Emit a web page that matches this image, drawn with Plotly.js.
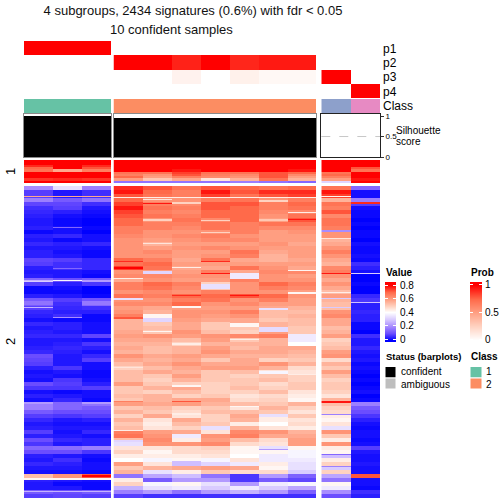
<!DOCTYPE html>
<html><head><meta charset="utf-8">
<script src="https://cdn.plot.ly/plotly-3.0.1.min.js"></script>
<style>html,body{margin:0;padding:0;background:#fff}</style>
</head><body><div id="chart" style="width:504px;height:504px"></div>
<script>
// ---------- data ----------
const titleMain = "4 subgroups, 2434 signatures (0.6%) with fdr < 0.05";
const titleSub = "10 confident samples";
const probNames = ["p1","p2","p3","p4"];
const probP1 = [1,1,1, 0,0,0,0,0,0,0, 0,0];
const probP2 = [0,0,0, 1,1,.92,1,.91,.94,.94, 0,0];
const probP3 = [0,0,0, 0,0,.07,0,.08,.04,.04, 1,0];
const probP4 = [0,0,0, 0,0,0,0,0,0,0, 0,1];
const classIds = [1,1,1, 2,2,2,2,2,2,2, 3,4];
const silhouette = [1,1,1, .96,.96,.96,.96,.96,.96,.96, 0,0];
const groups = [[0,1,2],[3,4,5,6,7,8,9],[10,11]];

// heatmap values x100, one line per row band, columns left to right
const slice1Percent = [
[80,80,80, 80,80,80,80,80,80,80, 80,80],
[80,80,80, 80,80,80,80,80,80,80, 80,80],
[76,80,76, 80,80,80,80,80,80,80, 80,80],
[70,80,72, 80,80,80,80,80,80,80, 80,72],
[68,58,66, 80,80,78,80,80,80,78, 80,68],
[80,80,80, 68,68,74,68,68,72,70, 68,80],
[80,80,80, 66,62,72,66,64,72,64, 70,80],
[80,80,80, 70,60,66,64,62,72,60, 66,80],
[75,76,75, 60,52,58,46,56,68,56, 60,78],
[80,80,80, 16,16,16,16,18,16,14, 32,80]
];
const slice2Percent = [
[20,34,18, 76,72,68,72,70,68,70, 68,14],
[8,3,6, 78,70,66,78,72,76,76, 78,2],
[8,3,6, 72,68,66,74,68,72,74, 74,2],
[18,12,16, 70,62,62,66,68,62,66, 56,18],
[9,9,6, 74,66,64,72,72,66,70, 68,8],
[6,8,3, 78,68,66,72,70,66,68, 66,2],
[5,4,2, 74,66,64,70,70,64,64, 72,1],
[4,2,1, 72,68,66,70,70,62,68, 64,1],
[3,1,0, 70,62,68,64,70,60,72, 68,0],
[3,1,0, 70,66,66,68,66,68,68, 68,1],
[4,2,1, 66,66,64,68,66,64,64, 66,0],
[1,2,0, 66,62,62,62,66,60,62, 62,1],
[4,5,2, 64,62,64,66,62,60,60, 62,1],
[3,1,2, 62,60,62,64,64,60,60, 56,0],
[5,4,5, 62,56,60,60,60,62,58, 58,2],
[3,3,2, 62,60,62,64,62,60,60, 62,1],
[4,2,1, 62,64,60,60,68,58,60, 66,1],
[4,3,1, 62,62,60,62,66,56,60, 62,2],
[9,8,5, 70,66,58,68,58,56,58, 58,1],
[8,6,5, 68,70,60,60,60,60,60, 56,6],
[4,6,5, 74,68,58,58,68,62,58, 64,4],
[3,3,2, 62,60,60,66,58,64,64, 66,2],
[4,3,1, 64,64,62,62,56,62,60, 62,0],
[14,10,12, 58,62,60,60,66,62,62, 58,0],
[8,4,7, 66,70,66,50,62,70,66, 62,1],
[1,2,0, 66,68,64,52,62,66,64, 58,0],
[1,1,0, 62,64,62,66,62,62,60, 54,0],
[4,3,1, 68,66,70,70,72,70,62, 60,5],
[12,8,11, 62,62,66,68,62,66,60, 56,7],
[12,6,14, 64,64,70,62,64,60,60, 54,4],
[8,5,6, 60,58,60,60,60,58,56, 54,4],
[5,4,4, 62,56,62,62,66,54,54, 62,5],
[4,6,1, 66,48,62,60,62,54,56, 64,4],
[2,1,1, 56,46,60,58,58,52,54, 58,4],
[5,4,2, 56,52,58,52,58,56,54, 58,1],
[3,4,2, 56,54,58,52,52,56,52, 54,1],
[4,3,2, 58,52,62,54,50,60,52, 56,0],
[5,5,9, 60,62,60,62,64,66,36, 60,6],
[3,3,2, 58,58,54,60,52,56,36, 50,3],
[3,4,7, 56,56,50,56,56,56,40, 52,3],
[4,5,4, 58,54,56,60,54,58,58, 54,5],
[5,4,2, 56,54,56,62,58,58,56, 60,3],
[10,3,5, 62,58,60,58,56,56,54, 62,2],
[9,3,8, 58,56,58,52,58,50,52, 48,3],
[8,3,2, 54,58,62,58,58,62,56, 56,1],
[4,7,2, 50,54,58,60,60,56,48, 52,2],
[2,3,1, 54,58,56,52,54,46,46, 60,1],
[3,2,1, 54,52,60,52,50,52,50, 54,0],
[2,7,2, 54,50,56,52,52,54,50, 50,1],
[10,8,4, 60,52,50,50,52,48,52, 52,0],
[7,7,8, 52,56,58,50,54,50,52, 52,1],
[2,1,2, 52,50,54,50,50,54,46, 50,2],
[4,3,2, 54,56,50,52,46,48,44, 46,0],
[2,5,1, 52,56,58,58,48,50,42, 56,1],
[18,14,16, 60,58,60,56,54,52,56, 54,18],
[18,14,12, 52,54,50,52,46,56,50, 50,12],
[12,10,10, 56,52,48,54,54,52,46, 48,10],
[8,7,8, 50,58,46,50,58,44,52, 44,7],
[5,3,4, 56,46,58,50,56,44,46, 42,4],
[3,2,2, 52,44,54,52,44,40,48, 46,2],
[4,3,3, 54,46,50,34,56,46,44, 34,1],
[8,2,5, 66,60,58,46,64,62,56, 62,2],
[4,3,2, 68,62,36,62,66,58,58, 52,2],
[10,5,4, 54,64,44,60,54,48,60, 44,1],
[7,3,4, 34,62,62,64,48,46,60, 62,2],
[14,15,18, 46,46,48,50,42,34,42, 44,8],
[10,10,7, 50,42,48,48,42,42,38, 42,3],
[4,3,2, 44,44,44,46,40,36,38, 28,2],
[3,6,1, 40,38,42,38,46,36,36, 44,2],
[5,4,2, 60,46,28,32,36,44,34, 50,3],
[3,3,2, 52,56,58,60,58,42,34, 30,2],
[2,2,1, 56,34,44,52,48,48,30, 50,2],
[54,62,72, 16,24,28,16,7,22,13, 24,72],
[4,3,2, 44,12,22,22,7,12,9, 16,2],
[3,1,1, 50,38,42,34,22,36,38, 42,2],
[3,3,1, 26,34,36,30,36,30,24, 36,1],
[12,10,12, 18,22,16,22,26,22,13, 20,6],
[8,9,8, 8,6,6,6,6,6,6, 10,4]
];
const bandsPerRow = 4;
// narrow rows standing out from their band: firstRow, lastRow, firstColumn, lastColumn, value x100
const narrowRows = [
[10,10,0,2,58],[10,10,10,10,42],[11,11,3,9,44],[13,13,4,4,46],[14,15,8,8,50],[16,17,5,5,50],
[16,17,11,11,76],[17,17,4,4,78],[26,26,9,9,44],[33,34,8,8,52],[33,33,9,9,78],[33,34,4,4,50],
[34,34,6,6,50],[41,41,1,1,14],[44,45,10,10,20],[46,46,6,6,50],[52,52,10,10,46],[57,57,4,4,46],
[75,75,3,3,76],[75,75,6,6,76],[81,82,3,3,80],[81,81,5,5,44],[82,82,1,1,14],[84,84,9,9,42],
[85,87,4,4,32],[87,87,6,6,78],[87,87,10,10,78],[87,87,11,11,30],[87,92,7,7,36],[92,92,3,3,44],
[94,94,0,0,26],[94,94,1,1,38],[94,95,2,2,22],[95,95,0,0,30],[98,102,6,6,34],[106,107,9,9,42],
[106,106,10,10,44],[109,109,7,7,78],[109,109,5,5,76],[112,113,3,3,34],[112,112,10,10,30],
[115,118,0,0,16],[115,118,2,2,17],[116,116,11,11,28],[120,121,5,5,42],[121,121,0,0,26],
[121,121,10,10,30],[122,123,8,8,34],[128,131,4,4,42],[132,135,4,4,32],[131,131,1,1,20],
[131,132,3,3,72],[137,140,7,7,42],[141,145,8,8,33],[145,145,4,4,42],[153,153,7,7,44],
[157,158,5,5,44],[181,181,3,3,46],[185,187,8,8,38],[188,188,9,9,44],[199,200,5,5,42],
[215,215,5,5,72],[215,216,10,10,78],[215,215,3,3,66],[216,217,0,0,22],[216,217,2,2,22],
[220,220,7,7,42],[227,228,5,5,44],[228,230,8,8,34],[228,228,10,10,18],[244,244,3,3,44],
[254,255,3,3,32],[263,263,8,8,22],[268,268,10,10,14],[275,278,5,5,28],[280,280,10,10,18],
[289,290,2,2,80],[292,293,0,2,42],[305,305,0,2,26]
];
const valueLegendSteps = [0,.1,.2,.3,.4,.5,.6,.7,.8];
const probLegendSteps = [0,.25,.5,.75,1];
const valueTicks = [0,.2,.4,.6,.8];
const valueTickText = ["0","0.2","0.4","0.6","0.8"];
const probTicks = [0,.5,1];
const probTickText = ["0","0.5","1"];
const silTicks = [0,.5,1];
const silTickText = ["0","0.5","1"];
const statusItems = ["confident","ambiguous"];
const classItems = ["1","2"];

// ---------- styles ----------
const FONT = "Liberation Sans, Arial, sans-serif";
const valueScale = [[0,"#0000ff"],[.125,"#6b4dff"],[.25,"#a88cff"],[.375,"#d9cbff"],[.5,"#ffffff"],
                    [.625,"#ffd2c1"],[.75,"#ff9e81"],[.875,"#ff6a4a"],[1,"#ff0000"]];
const probScale = [[0,"#ffffff"],[.25,"#ffd2c1"],[.5,"#ff9e81"],[.75,"#ff6a4a"],[1,"#ff0000"]];
const classScale = [[0,"#66c2a5"],[1/3,"#fc8d62"],[2/3,"#8da0cb"],[1,"#e78ac3"]];

const W = 504;
const dx = (a,b)=>[a/W,b/W];
const dy = (t,b)=>[1-b/W,1-t/W];
const groupDom = [dx(24,111),dx(113.5,316),dx(321.3,380)];
const hidden = {showgrid:false,zeroline:false,showticklabels:false,ticks:"",showline:false};

// expand bands to single rows and lay the narrow rows over them
const slice2Rows = [];
slice2Percent.forEach(r=>{for(let i=0;i<bandsPerRow;i++) slice2Rows.push(r.slice());});
narrowRows.forEach(n=>{for(let y=n[0];y<=n[1];y++) for(let c=n[2];c<=n[3];c++) slice2Rows[y][c]=n[4];});

const probRows = [probP1,probP2,probP3,probP4];
const pick = (rows,g,scale)=>rows.map(r=>g.map(i=>r[i]*scale));
const traces = [];
const layout = {
  width:W,height:W,margin:{l:0,r:0,t:0,b:0},paper_bgcolor:"#fff",plot_bgcolor:"#fff",
  showlegend:false,autosize:false,bargap:0,
  title:{text:titleMain,x:193/W,xanchor:"center",y:1-10/W,yanchor:"middle",font:{family:FONT,size:13,color:"#111"}},
  font:{family:FONT,color:"#000"},
  annotations:[],shapes:[],
  yaxis:Object.assign({},hidden,{domain:dy(41,98),autorange:"reversed"}),
  yaxis2:Object.assign({},hidden,{domain:dy(99,113)}),
  yaxis3:Object.assign({},hidden,{domain:dy(160,183),autorange:"reversed"}),
  yaxis4:Object.assign({},hidden,{domain:dy(186,498),autorange:"reversed"})
};
groups.forEach((g,k)=>{
  const xn = k===0?"x":"x"+(k+1);
  const xk = k===0?"xaxis":"xaxis"+(k+1);
  layout[xk] = Object.assign({},hidden,{domain:groupDom[k],range:[-.5,g.length-.5]});
  const xs = g.map((_,i)=>i);
  traces.push({type:"heatmap",x:xs,y:probNames,z:pick(probRows,g,1),xaxis:xn,yaxis:"y",
    colorscale:probScale,zmin:0,zmax:1,showscale:false,hoverinfo:"skip"});
  traces.push({type:"heatmap",x:xs,y:["Class"],z:[g.map(i=>classIds[i])],xaxis:xn,yaxis:"y2",
    colorscale:classScale,zmin:1,zmax:4,showscale:false,hoverinfo:"skip"});
  traces.push({type:"heatmap",x:xs,y:slice1Percent.map((_,i)=>i),z:pick(slice1Percent,g,.01),xaxis:xn,yaxis:"y3",
    colorscale:valueScale,zmin:0,zmax:.8,showscale:false,hoverinfo:"skip"});
  traces.push({type:"heatmap",x:xs,y:slice2Rows.map((_,i)=>i),z:pick(slice2Rows,g,.01),xaxis:xn,yaxis:"y4",
    colorscale:valueScale,zmin:0,zmax:.8,showscale:false,hoverinfo:"skip"});
  // silhouette bars, own framed axes
  const sx = "x"+(4+k), sy = "y"+(5+k), line = k===2?"#222222":"#8a8a8a";
  layout["xaxis"+(4+k)] = Object.assign({},hidden,{domain:groupDom[k],range:[-.5,g.length-.5],anchor:sy,
    showline:true,mirror:true,linecolor:line,linewidth:1});
  layout["yaxis"+(5+k)] = Object.assign({},hidden,{domain:dy(114,157),range:[0,1.05],anchor:sx,
    showline:true,mirror:true,linecolor:line,linewidth:1});
  traces.push({type:"bar",x:xs,y:g.map(i=>silhouette[i]),xaxis:sx,yaxis:sy,width:1,
    marker:{color:"#000000",line:{width:0}},hoverinfo:"skip"});
});
// silhouette tick labels on the last group
Object.assign(layout.yaxis7,{side:"right",showticklabels:true,ticks:"outside",ticklen:3,tickwidth:1,tickcolor:"#333",
  tickvals:silTicks,ticktext:silTickText,tickfont:{family:FONT,size:8,color:"#000"}});
layout.shapes.push({type:"line",xref:"x6 domain",yref:"y7",x0:0,x1:1,y0:.5,y1:.5,
  line:{color:"#c8c8c8",width:1,dash:"dash"},layer:"above"});

// legend bars
function legendBar(xa,ya,l,r,steps,scale,zmax,rng,ticks,text,standoff){
  layout["xaxis"+xa] = Object.assign({},hidden,{domain:dx(l,r),range:[0,1],anchor:"y"+ya});
  layout["yaxis"+ya] = {domain:dy(282,342),range:rng,anchor:"x"+xa,side:"right",showgrid:false,zeroline:false,
    showline:false,ticks:"inside",ticklen:3,tickwidth:1,tickcolor:"#ffffff",mirror:"ticks",ticklabelstandoff:standoff,
    tickvals:ticks,ticktext:text,tickfont:{family:FONT,size:10,color:"#000"}};
  traces.push({type:"heatmap",x:[0,1],y:steps,z:steps.map(s=>[s,s]),xaxis:"x"+xa,yaxis:"y"+ya,zsmooth:"best",
    colorscale:scale,zmin:0,zmax:zmax,showscale:false,hoverinfo:"skip"});
}
legendBar(7,8,385,396,valueLegendSteps,valueScale,.8,[-.035,.845],valueTicks,valueTickText,3);
legendBar(8,9,470,482,probLegendSteps,probScale,1,[-.04,1.05],probTicks,probTickText,2);

// text
function note(text,x,y,size,opts){
  layout.annotations.push(Object.assign({text:text,xref:"paper",yref:"paper",x:x/W,y:1-y/W,xanchor:"left",yanchor:"middle",
    showarrow:false,font:{family:FONT,size:size,color:"#000"}},opts||{}));
}
note(titleSub,108,29,13,{font:{family:FONT,size:13,color:"#111"}});
probNames.forEach((p,i)=>note(p,381,[49,63,77,92][i],12));
note("Class",381,106,12);
note("Silhouette",394,131,10);
note("score",394,141,10);
note("1",10,172,13,{xanchor:"center",textangle:-90});
note("2",10,342,13,{xanchor:"center",textangle:-90});
note("<b>Value</b>",383.5,272.5,10);
note("<b>Prob</b>",468.5,272.5,10);
note("<b>Status (barplots)</b>",383.5,356.5,9.5);
note("<b>Class</b>",468.5,356.5,10);
statusItems.forEach((s,i)=>note(s,398.5,[371.5,384][i],10));
classItems.forEach((s,i)=>note(s,483.5,[371.5,384][i],10));
[["#000000",385,396,366.5,378],["#bebebe",385,396,378,389],["#66c2a5",470,482,366.5,378],["#fc8d62",470,482,378,389]]
 .forEach(s=>layout.shapes.push({type:"rect",xref:"paper",yref:"paper",x0:s[1]/W,x1:s[2]/W,y0:1-s[4]/W,y1:1-s[3]/W,
   fillcolor:s[0],line:{width:1,color:"#ffffff"}}));

Plotly.newPlot("chart",traces,layout,{displayModeBar:false,staticPlot:true});
</script></body></html>
